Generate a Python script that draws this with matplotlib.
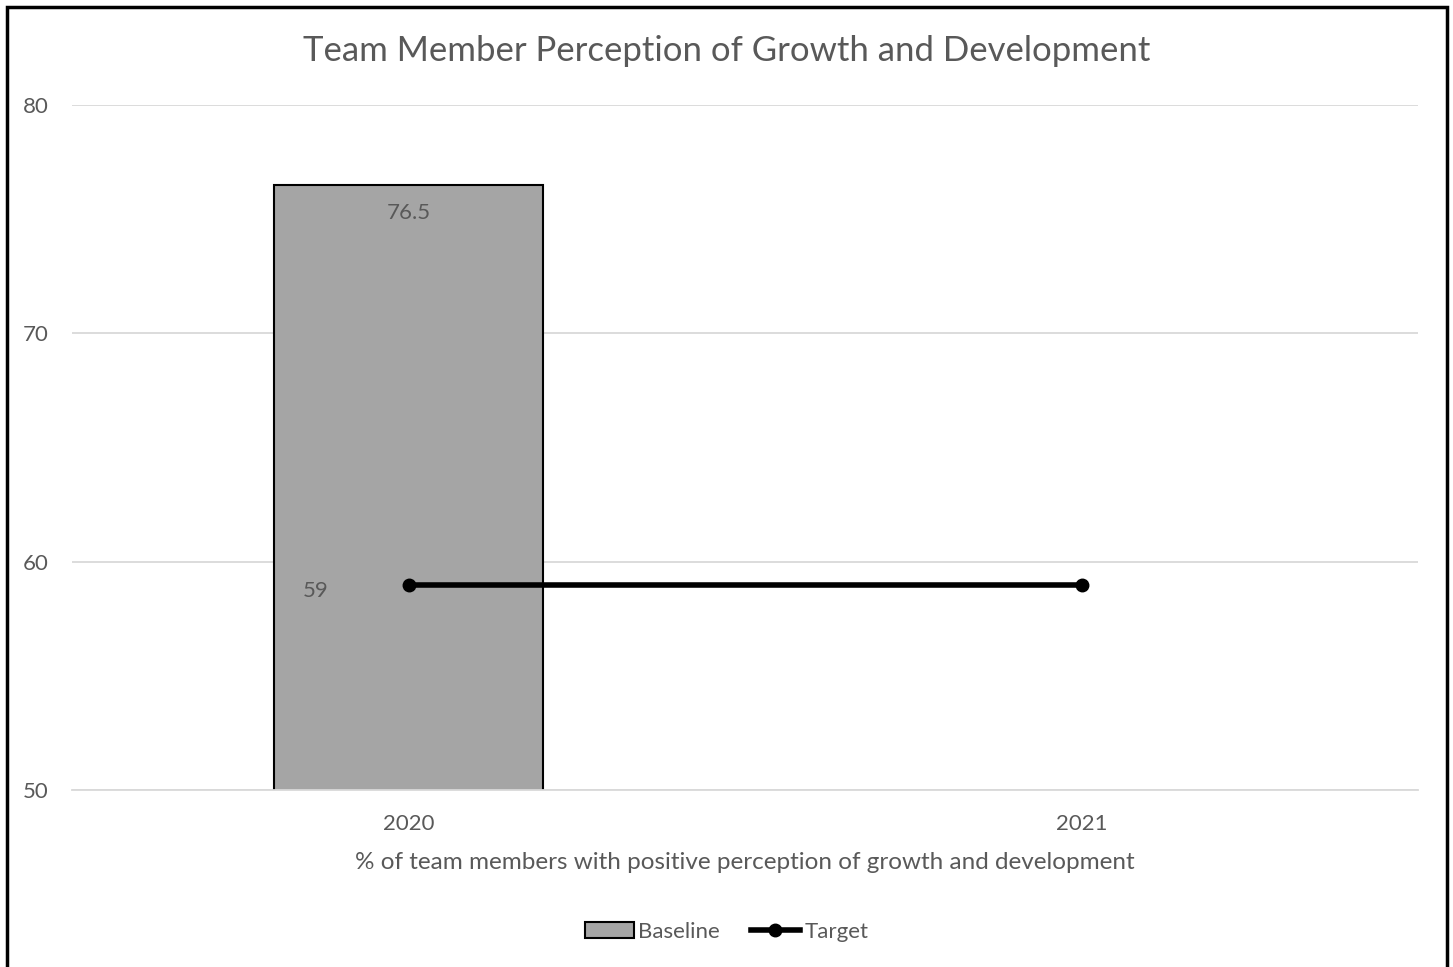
import numpy as np
import matplotlib.pyplot as plt
from matplotlib.patches import Rectangle

plt.rcParams["font.family"] = ["Lato", "DejaVu Sans"]

# chart data
years = ["2020", "2021"]
baseline = [76.5]
target = [59, 59]
y_ticks = [50, 60, 70, 80]

TEXT = "#595959"

fig = plt.figure(figsize=(14.53, 9.67), dpi=100)
ax = fig.add_axes([72 / 1453, 1 - 790 / 967, (1418 - 72) / 1453, (790 - 105) / 967])

x = np.arange(len(years))
bars = ax.bar(x[: len(baseline)], baseline, width=0.4, bottom=0, color="#a5a5a5", edgecolor="black",
              linewidth=1.5, label="Baseline", zorder=2)
line, = ax.plot(x, target, color="black", linewidth=4, marker="o", markersize=9, label="Target", zorder=3)

ax.annotate(f"{baseline[0]:g}", (x[0], baseline[0]), xytext=(0, -20), textcoords="offset points",
            ha="center", va="center", fontsize=16, color=TEXT)
ax.annotate(f"{target[0]:g}", (x[0], target[0]), xytext=(-67, -5), textcoords="offset points",
            ha="center", va="center", fontsize=16, color=TEXT)

ax.set_xlim(-0.5, 1.5)
ax.set_ylim(50, 80)
ax.set_yticks(y_ticks)
ax.set_xticks(x)
ax.set_xticklabels(years)
ax.tick_params(length=0, labelsize=16, labelcolor=TEXT)
ax.tick_params(axis="y", pad=17)
ax.tick_params(axis="x", pad=17)
ax.grid(axis="y", color="#d9d9d9", linewidth=1.3, zorder=0)
ax.set_axisbelow(True)
for s in ax.spines.values():
    s.set_visible(False)
ax.spines["bottom"].set_visible(True)
ax.spines["bottom"].set_color("#d9d9d9")
ax.spines["bottom"].set_linewidth(1.3)

ax.set_xlabel("% of team members with positive perception of growth and development",
              fontsize=17.5, color=TEXT, labelpad=13)
fig.text(0.5, 1 - 51 / 967, "Team Member Perception of Growth and Development",
         ha="center", va="center", fontsize=25, color=TEXT)

fig.legend([bars, line], ["Baseline", "Target"], loc="center", bbox_to_anchor=(0.5, 1 - 932 / 967),
           ncol=2, frameon=False, fontsize=16, labelcolor=TEXT, handlelength=2.2, handletextpad=0.2,
           columnspacing=1.4)

fig.patches.append(Rectangle((7 / 1453, -0.05), (1447 - 7) / 1453, 1 - 7 / 967 + 0.05,
                             transform=fig.transFigure, fill=False, edgecolor="black", linewidth=2.5))

fig.savefig("out.png", dpi=100)
